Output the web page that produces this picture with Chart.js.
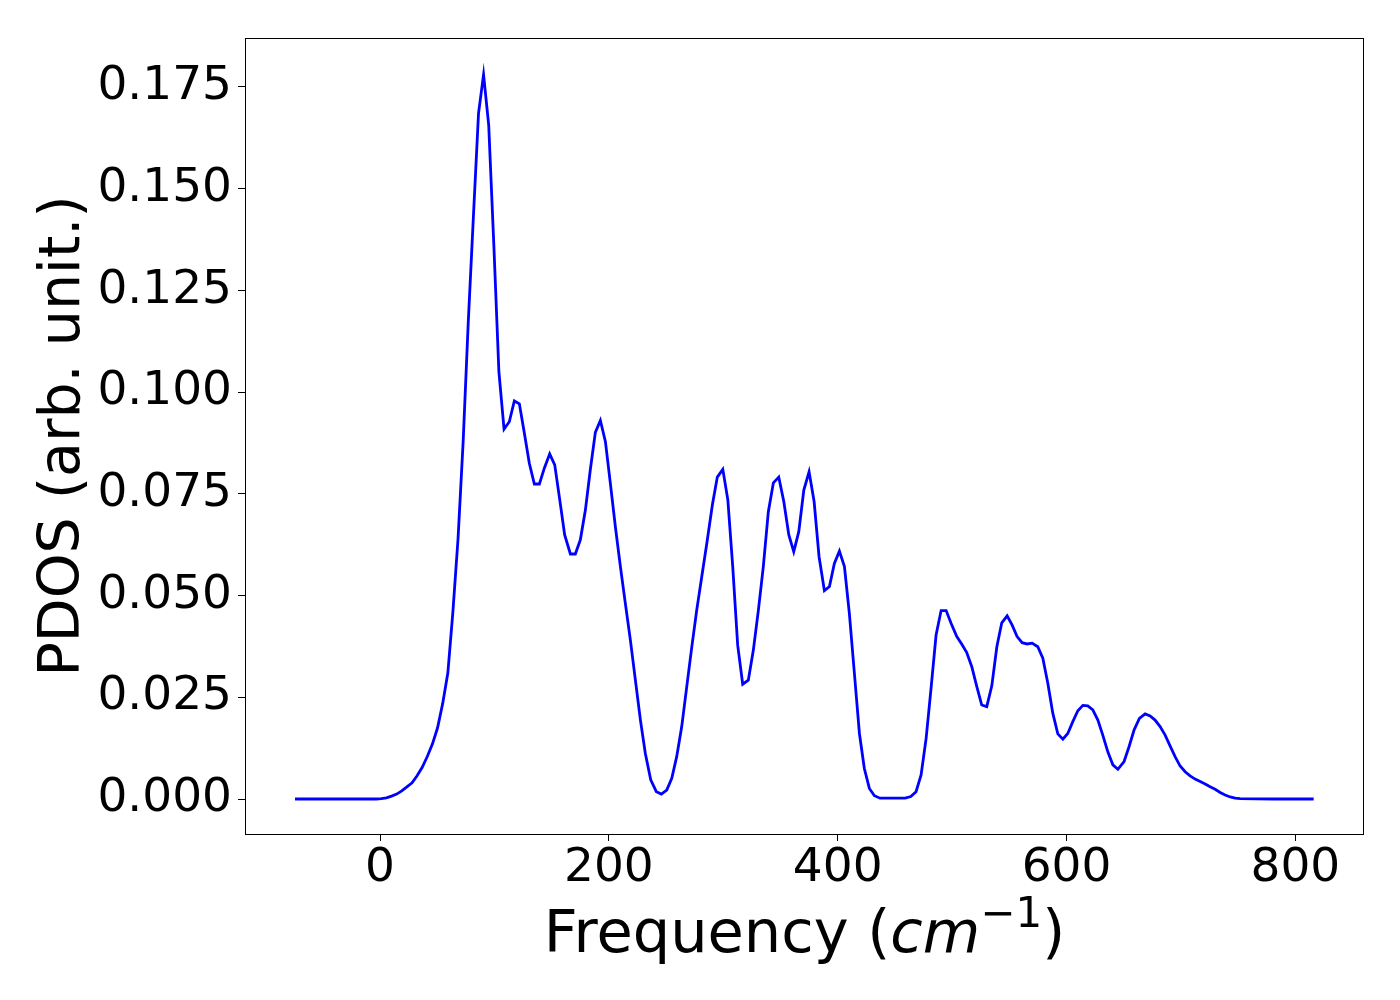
<!DOCTYPE html>
<html lang="en">
<head>
  <meta charset="UTF-8">
  <title>PDOS</title>
  <script src="https://cdn.jsdelivr.net/npm/chart.js"></script>
  <style>
    body { margin: 0; background: #ffffff; }
    #wrap { width: 1400px; height: 1000px; }
  </style>
</head>
<body>
  <div id="wrap"><canvas id="pdosChart" width="1400" height="1000"></canvas></div>
  <script>
    // frequency (cm^-1) and PDOS values
    const freq = [
      -74.3, -40, -10, -3.3, 1.2, 5.6, 10.1, 14.6, 19.0, 23.5, 28.0, 32.4, 36.9, 41.4, 45.8,
      50.3, 54.8, 59.3, 63.7, 68.2, 72.7, 77.1, 81.6, 86.1, 90.5, 95.0, 99.5, 103.9, 108.4,
      113.0, 117.4, 121.8, 126.1, 130.5, 134.9, 139.3, 143.6, 148.3, 152.7, 157.1, 161.4,
      166.4, 170.7, 175.1, 179.5, 183.8, 188.2, 192.6, 197.0, 201.3, 205.7, 210.1, 214.4,
      218.8, 223.2, 227.6, 231.9, 236.6, 241.5, 245.9, 250.6, 255.0, 259.3, 263.7, 268.1,
      272.5, 276.8, 281.2, 285.6, 290.5, 294.8, 299.6, 304.0, 308.3, 312.6, 317.0, 321.9,
      326.3, 330.7, 335.0, 339.4, 343.8, 348.5, 352.9, 357.3, 361.6, 366.0, 370.4, 375.0,
      379.4, 383.7, 388.4, 392.8, 397.1, 401.5, 405.9, 410.2, 414.6, 419.0, 423.3, 427.7,
      432.1, 437.0, 459.0, 463.9, 468.5, 472.9, 477.3, 481.6, 486.0, 490.4, 494.8, 499.1,
      504.1, 508.5, 512.8, 517.2, 521.6, 525.9, 530.3, 534.7, 539.1, 543.4, 548.1, 552.4,
      556.8, 561.2, 565.6, 569.9, 574.9, 579.3, 583.7, 588.0, 592.4, 596.8, 601.1, 605.5,
      609.9, 614.3, 618.6, 623.0, 627.4, 631.7, 636.1, 640.5, 644.9, 650.3, 654.7, 659.1,
      663.7, 668.7, 673.1, 677.4, 681.8, 686.2, 690.6, 694.9, 699.3, 703.7, 708.0, 712.4,
      716.8, 721.2, 725.5, 729.9, 734.3, 738.6, 743.0, 747.4, 751.7, 780, 816
    ];
    const pdos = [
      0, 0, 0, 0, 0.0001, 0.0003, 0.0007, 0.0012, 0.002, 0.003, 0.004, 0.0057, 0.0078, 0.0105, 0.0135,
      0.0175, 0.0235, 0.031, 0.046, 0.064, 0.088, 0.117, 0.143, 0.1685, 0.178, 0.1656, 0.136, 0.105, 0.0909,
      0.0927, 0.0978, 0.0971, 0.090, 0.0825, 0.0774, 0.0774, 0.0813, 0.0848, 0.0821, 0.0735, 0.0649,
      0.0602, 0.0602, 0.0637, 0.071, 0.0809, 0.0901, 0.093, 0.0878, 0.0776, 0.0669, 0.0571, 0.0481,
      0.0391, 0.0292, 0.0194, 0.0112, 0.0047, 0.0018, 0.0012, 0.0022, 0.0051, 0.0104, 0.0178, 0.0276,
      0.0374, 0.0464, 0.0546, 0.0628, 0.0723, 0.0791, 0.081, 0.0735, 0.057, 0.0378, 0.0282, 0.0292,
      0.0366, 0.0464, 0.0571, 0.0706, 0.0777, 0.0791, 0.0731, 0.0649, 0.0608, 0.0657, 0.0759, 0.0804,
      0.0731, 0.0596, 0.0512, 0.0522, 0.0579, 0.0609, 0.0571, 0.0456, 0.0309, 0.0161, 0.0075, 0.0026,
      0.0008, 0.0002, 0.0002, 0.0006, 0.0018, 0.0059, 0.0149, 0.0272, 0.0403, 0.0463, 0.0463, 0.0432,
      0.0399, 0.038, 0.036, 0.0325, 0.0276, 0.0231, 0.0227, 0.0278, 0.0374, 0.0433, 0.045, 0.0428,
      0.0399, 0.0384, 0.0381, 0.0383, 0.0374, 0.0346, 0.0284, 0.0211, 0.016, 0.0147, 0.0161, 0.019,
      0.0217, 0.023, 0.0229, 0.0219, 0.0194, 0.0157, 0.0116, 0.0084, 0.0073, 0.0092, 0.0129, 0.017,
      0.0198, 0.0209, 0.0204, 0.0194, 0.0178, 0.0157, 0.013, 0.0104, 0.0081, 0.0067, 0.0057, 0.0049,
      0.0043, 0.0037, 0.003, 0.0024, 0.0016, 0.001, 0.0005, 0.0002, 0.0001, 0, 0
    ];
    const xTicks = [0, 200, 400, 600, 800];
    const yTicks = [0, 0.025, 0.05, 0.075, 0.1, 0.125, 0.15, 0.175];

    const FONT = "'DejaVu Sans', sans-serif";

    // box around the plot + axis titles (x title has italic cm and a superscript)
    const framePlugin = {
      id: 'frame',
      afterDraw(chart) {
        const { ctx, chartArea: a } = chart;
        ctx.save();
        ctx.strokeStyle = '#000';
        ctx.lineWidth = 1;
        ctx.strokeRect(a.left + 0.5, a.top + 0.5, a.right - a.left - 1, a.bottom - a.top);

        ctx.fillStyle = '#000';
        ctx.textBaseline = 'alphabetic';

        // x title
        const parts = [
          { t: 'Frequency (', f: '59px ' + FONT, dy: 0 },
          { t: 'cm', f: 'italic 59px ' + FONT, dy: 0 },
          { t: '\u22121', f: '42px ' + FONT, dy: -25 },
          { t: ')', f: '59px ' + FONT, dy: 0 }
        ];
        let total = 0;
        parts.forEach(p => { ctx.font = p.f; p.w = ctx.measureText(p.t).width; total += p.w; });
        let x = (a.left + a.right) / 2 - total / 2;
        const base = 952;
        parts.forEach(p => {
          ctx.font = p.f;
          ctx.textAlign = 'left';
          ctx.fillText(p.t, x, base + p.dy);
          x += p.w;
        });

        // y title
        ctx.translate(79, (a.top + a.bottom) / 2);
        ctx.rotate(-Math.PI / 2);
        ctx.font = '57px ' + FONT;
        ctx.textAlign = 'center';
        ctx.fillText('PDOS (arb. unit.)', 0, 0);
        ctx.restore();
      }
    };

    new Chart(document.getElementById('pdosChart'), {
      type: 'line',
      data: {
        datasets: [{
          data: freq.map((f, i) => ({ x: f, y: pdos[i] })),
          borderColor: '#0000ff',
          borderWidth: 2.8,
          pointRadius: 0,
          tension: 0,
          fill: false
        }]
      },
      options: {
        responsive: false,
        animation: false,
        layout: { padding: { left: 0, top: 38, right: 36, bottom: 0 } },
        plugins: { legend: { display: false }, tooltip: { enabled: false } },
        scales: {
          x: {
            type: 'linear',
            min: -118,
            max: 860,
            afterBuildTicks: s => { s.ticks = xTicks.map(v => ({ value: v })); },
            afterFit: s => { s.height = 166; },
            grid: { drawOnChartArea: false, drawTicks: true, tickLength: 7, color: '#000' },
            border: { display: false },
            ticks: {
              color: '#000',
              font: { family: FONT, size: 47 },
              padding: 0,
              maxRotation: 0,
              callback: v => String(v)
            }
          },
          y: {
            min: -0.0086,
            max: 0.187,
            afterBuildTicks: s => { s.ticks = yTicks.map(v => ({ value: v })); },
            afterFit: s => { s.width = 245; },
            grid: { drawOnChartArea: false, drawTicks: true, tickLength: 7, color: '#000' },
            border: { display: false },
            ticks: {
              color: '#000',
              font: { family: FONT, size: 47 },
              padding: 6,
              callback: v => v.toFixed(3)
            }
          }
        }
      },
      plugins: [framePlugin]
    });
  </script>
</body>
</html>
